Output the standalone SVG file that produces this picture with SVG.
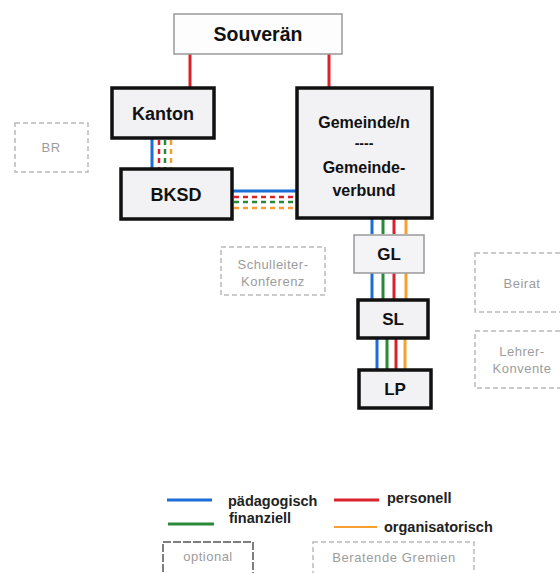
<svg xmlns="http://www.w3.org/2000/svg" width="560" height="573" viewBox="0 0 560 573">
<style>
.bg{fill:#fff}
.main{fill:#f2f2f5;stroke:#111;stroke-width:3.5}
.thin{fill:#f4f4f6;stroke:#999;stroke-width:1.5}
.opt{fill:#fff;stroke:#bbb;stroke-width:1.5;stroke-dasharray:5 3}
.t{font-family:"Liberation Sans",Arial,sans-serif;font-weight:bold;fill:#111;text-anchor:middle}
.g{font-family:"Liberation Sans",Arial,sans-serif;fill:#9c9c9c;text-anchor:middle;font-size:13px;letter-spacing:0.5px}
.lg{font-family:"Liberation Sans",Arial,sans-serif;font-weight:bold;fill:#222;font-size:14.5px}
.b{stroke:#1a6fd6;stroke-width:3;fill:none}
.gr{stroke:#2a8a3a;stroke-width:3;fill:none}
.r{stroke:#d8232a;stroke-width:3;fill:none}
.o{stroke:#f5a030;stroke-width:3;fill:none}
.d{stroke-dasharray:5 4;stroke-width:2.5}
</style>
<rect class="bg" width="560" height="573"/>
<g id="connectors">
<line class="r" x1="190" y1="54" x2="190" y2="87"/>
<line class="r" x1="329" y1="54" x2="329" y2="87"/>
<line class="b" x1="152" y1="138" x2="152" y2="169"/>
<line class="r d" x1="159" y1="140" x2="159" y2="169"/>
<line class="gr d" x1="165" y1="140" x2="165" y2="169"/>
<line class="o d" x1="171" y1="140" x2="171" y2="169"/>
<line class="b" x1="232" y1="191" x2="296" y2="191"/>
<line class="r d" x1="234" y1="197" x2="296" y2="197"/>
<line class="gr d" x1="234" y1="202" x2="296" y2="202"/>
<line class="o d" x1="234" y1="208" x2="296" y2="208"/>
<line class="b" x1="372" y1="218" x2="372" y2="234"/>
<line class="gr" x1="383" y1="218" x2="383" y2="234"/>
<line class="r" x1="394" y1="218" x2="394" y2="234"/>
<line class="o" x1="406" y1="218" x2="406" y2="234"/>
<line class="b" x1="372" y1="273" x2="372" y2="299"/>
<line class="gr" x1="383" y1="273" x2="383" y2="299"/>
<line class="r" x1="394" y1="273" x2="394" y2="299"/>
<line class="o" x1="406" y1="273" x2="406" y2="299"/>
<line class="b" x1="377" y1="339" x2="377" y2="369"/>
<line class="gr" x1="387" y1="339" x2="387" y2="369"/>
<line class="r" x1="396" y1="339" x2="396" y2="369"/>
<line class="o" x1="405" y1="339" x2="405" y2="369"/>
</g>
<g id="souveraen">
<rect class="thin" x="174" y="14" width="168" height="40" style="fill:#fdfdfd"/>
<text class="t" x="258" y="41" font-size="19.5">Souverän</text>
</g>
<g id="kanton">
<rect class="main" x="112" y="88" width="102" height="50"/>
<text class="t" x="163" y="120" font-size="18">Kanton</text>
</g>
<g id="gemeinde">
<rect class="main" x="297" y="88" width="135" height="130"/>
<text class="t" x="364" y="128" font-size="16">Gemeinde/n</text>
<text class="t" x="364" y="148" font-size="14">----</text>
<text class="t" x="364" y="173" font-size="16">Gemeinde-</text>
<text class="t" x="364" y="196" font-size="16">verbund</text>
</g>
<g id="bksd">
<rect class="main" x="121" y="169" width="111" height="50"/>
<text class="t" x="176" y="201" font-size="18">BKSD</text>
</g>
<g id="br">
<rect class="opt" x="15" y="123" width="73" height="49"/>
<text class="g" x="51" y="152">BR</text>
</g>
<g id="schulleiterkonferenz">
<rect class="opt" x="221" y="247" width="104" height="48"/>
<text class="g" x="273" y="269">Schulleiter-</text>
<text class="g" x="273" y="286">Konferenz</text>
</g>
<g id="gl">
<rect class="thin" x="354" y="235" width="70" height="38"/>
<text class="t" x="389" y="260" font-size="17">GL</text>
</g>
<g id="sl">
<rect class="main" x="358" y="300" width="70" height="38"/>
<text class="t" x="393" y="325" font-size="17">SL</text>
</g>
<g id="lp">
<rect class="main" x="359" y="370" width="72" height="38"/>
<text class="t" x="395" y="395" font-size="17">LP</text>
</g>
<g id="beirat">
<rect class="opt" x="475" y="253" width="95" height="59"/>
<text class="g" x="522" y="288">Beirat</text>
</g>
<g id="lehrerkonvente">
<rect class="opt" x="475" y="331" width="95" height="57"/>
<text class="g" x="522" y="356">Lehrer-</text>
<text class="g" x="522" y="373">Konvente</text>
</g>
<g id="legend">
<line class="b" x1="167" y1="500" x2="212" y2="500"/>
<text class="lg" x="228" y="506">pädagogisch</text>
<line class="gr" x1="168" y1="524" x2="214" y2="524"/>
<text class="lg" x="229" y="523">finanziell</text>
<line class="r" x1="334" y1="500" x2="379" y2="500"/>
<text class="lg" x="387" y="503">personell</text>
<line class="o" x1="334" y1="527" x2="377" y2="527" style="stroke-width:2"/>
<text class="lg" x="384" y="532">organisatorisch</text>
<rect class="opt" x="163" y="542" width="90" height="40" style="stroke:#555;stroke-dasharray:8 2"/>
<text class="g" x="208" y="561">optional</text>
<rect class="opt" x="313" y="542" width="161" height="40"/>
<text class="g" x="394" y="562" font-size="14" style="letter-spacing:0.6px">Beratende Gremien</text>
</g>
</svg>
